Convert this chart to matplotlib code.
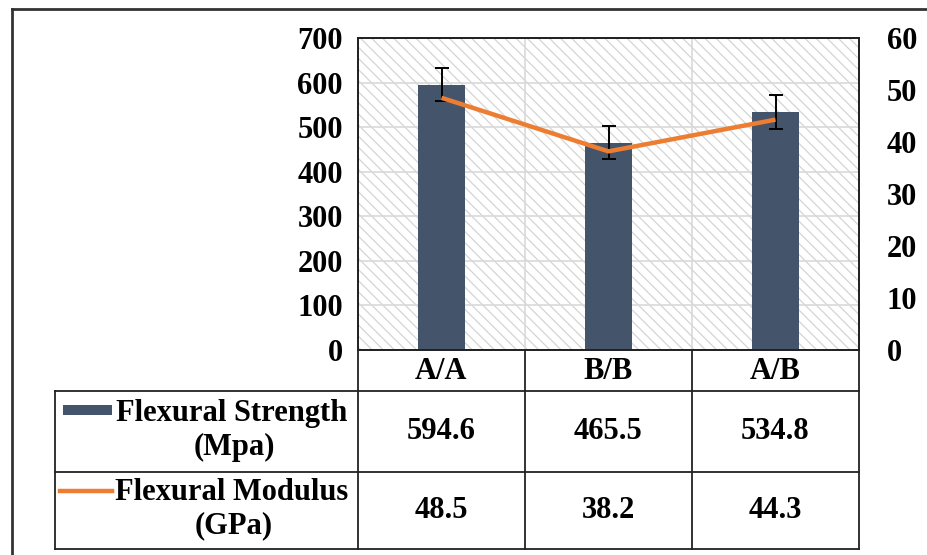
import matplotlib
matplotlib.use("Agg")
import matplotlib.pyplot as plt
from matplotlib.patches import Rectangle
import numpy as np

# values for the three laminates
categories = ["A/A", "B/B", "A/B"]
strength = [594.6, 465.5, 534.8]          # MPa
strength_err = [37, 38, 38]
modulus = [48.5, 38.2, 44.3]              # GPa
strength_label = ["Flexural Strength", "(Mpa)"]
modulus_label = ["Flexural Modulus", "(GPa)"]
left_ticks = [0, 100, 200, 300, 400, 500, 600, 700]
right_ticks = [0, 10, 20, 30, 40, 50, 60]

BAR = "#44546A"
LINE = "#ED7D31"
W, H = 927, 555

plt.rcParams["font.family"] = ["Liberation Serif", "DejaVu Serif"]
plt.rcParams["font.weight"] = "bold"
plt.rcParams["hatch.color"] = "#d4d4d4"
plt.rcParams["hatch.linewidth"] = 0.9
FS = 22

fig = plt.figure(figsize=(W / 100, H / 100), dpi=100)

def fx(px):
    return px / W

def fy(py):
    return 1 - py / H

# plot area
x0, x1, ytop, ybot = 358, 859, 38, 350
ax = fig.add_axes([fx(x0), fy(ybot), fx(x1) - fx(x0), fy(ytop) - fy(ybot)])
ax.set_axisbelow(True)
ax.add_patch(Rectangle((0, 0), 1, 1, transform=ax.transAxes, facecolor="white",
                       edgecolor="#d4d4d4", linewidth=0, hatch="\\\\\\", zorder=0))
x = np.arange(len(categories))
ax.bar(x, strength, width=0.28, color=BAR, zorder=2,
       yerr=strength_err, capsize=5,
       error_kw=dict(elinewidth=1.4, capthick=1.4, ecolor="black", zorder=3))
ax.set_xlim(-0.5, len(categories) - 0.5)
ax.set_ylim(0, 700)
ax.set_yticks(left_ticks)
ax.set_xticks([])
ax.yaxis.grid(True, color="#d9d9d9", linewidth=1.2)
for b in x[:-1] + 0.5:
    ax.axvline(b, color="#d9d9d9", linewidth=1.2, zorder=1)
ax.tick_params(axis="y", length=0, pad=11, labelsize=FS)
for s in ax.spines.values():
    s.set_color("#222222")
    s.set_linewidth(1.3)

ax2 = ax.twinx()
ax2.plot(x, modulus, color=LINE, linewidth=3.2, solid_capstyle="butt", zorder=4)
ax2.set_ylim(0, 60)
ax2.set_yticks(right_ticks)
ax2.tick_params(axis="y", length=0, pad=20, labelsize=FS)
for s in ax2.spines.values():
    s.set_color("#222222")
    s.set_linewidth(1.3)

# data table under the axes, laid out in pixel coordinates
ov = fig.add_axes([0, 0, 1, 1], zorder=5)
ov.set_xlim(0, W)
ov.set_ylim(H, 0)
ov.set_axis_off()

# outer frame (top and left edges)
ov.plot([12, W], [9, 9], color="#333333", linewidth=2)
ov.plot([12, 12], [9, H], color="#333333", linewidth=2)

cols = [358, 525, 692, 859]
rows = [350, 391, 472, 549]
lk = dict(color="#222222", linewidth=1.3, solid_capstyle="projecting")
for cx in cols:
    ov.plot([cx, cx], [rows[0], rows[-1]], **lk)
ov.plot([55, 55], [rows[1], rows[-1]], **lk)
for ry in rows[1:]:
    ov.plot([55, cols[-1]], [ry, ry], **lk)

centers = [(cols[i] + cols[i + 1]) / 2 for i in range(len(categories))]
for cx, cat, s, m in zip(centers, categories, strength, modulus):
    ov.text(cx, (rows[0] + rows[1]) / 2 + 1, cat, ha="center", va="center", fontsize=FS)
    ov.text(cx, (rows[1] + rows[2]) / 2, f"{s:.1f}", ha="center", va="center", fontsize=FS)
    ov.text(cx, (rows[2] + rows[3]) / 2, f"{m:.1f}", ha="center", va="center", fontsize=FS)

# legend keys
ov.add_patch(Rectangle((63, 405), 49, 10, facecolor=BAR, edgecolor="none"))
ov.plot([60, 112], [491, 491], color=LINE, linewidth=3.2)
ov.text(232, 414, strength_label[0], ha="center", va="center", fontsize=FS)
ov.text(234, 447, strength_label[1], ha="center", va="center", fontsize=FS)
ov.text(232, 493, modulus_label[0], ha="center", va="center", fontsize=FS)
ov.text(234, 526, modulus_label[1], ha="center", va="center", fontsize=FS)

fig.savefig("out.png", dpi=100)
